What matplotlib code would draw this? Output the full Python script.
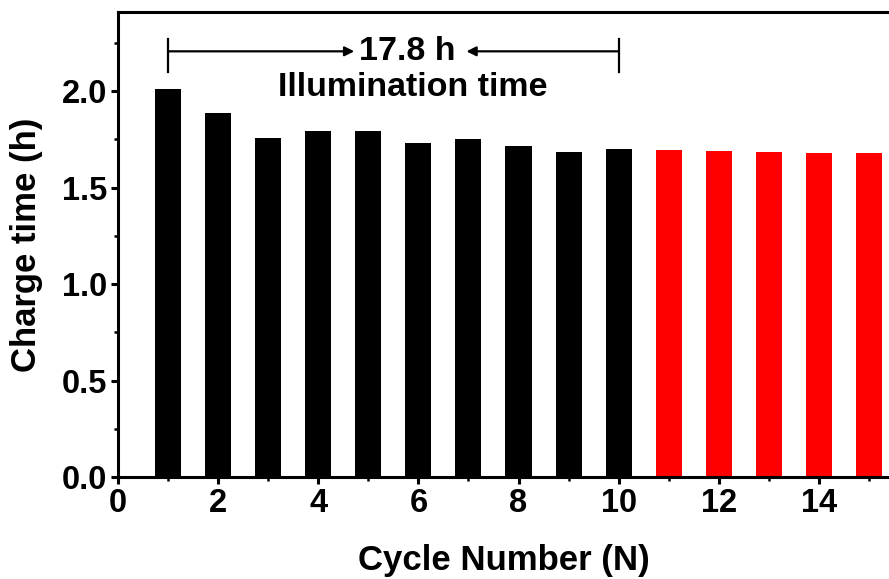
import matplotlib.pyplot as plt
from matplotlib.ticker import MultipleLocator

plt.rcParams['font.family'] = ['Liberation Sans', 'DejaVu Sans']
plt.rcParams['font.weight'] = 'bold'

# Цикл и время заряда
cycles = [1, 2, 3, 4, 5, 6, 7, 8, 9, 10, 11, 12, 13, 14, 15]
charge_time = [2.01, 1.885, 1.76, 1.795, 1.795, 1.73, 1.75, 1.715, 1.685, 1.70,
               1.694, 1.69, 1.686, 1.681, 1.681]
colors = ['black'] * 10 + ['red'] * 5

fig = plt.figure(figsize=(8.89, 5.79), dpi=100)
ax = fig.add_axes([0.1327, 0.176, 0.8673, 0.803])

ax.bar(cycles, charge_time, width=0.52, color=colors)

ax.set_xlim(0, 15.4)
ax.set_ylim(0, 2.41)
ax.xaxis.set_major_locator(MultipleLocator(2))
ax.xaxis.set_minor_locator(MultipleLocator(1))
ax.yaxis.set_major_locator(MultipleLocator(0.5))
ax.yaxis.set_minor_locator(MultipleLocator(0.25))
ax.yaxis.set_major_formatter(plt.FormatStrFormatter('%.1f'))

for s in ['left', 'top', 'bottom']:
    ax.spines[s].set_linewidth(2.2)
ax.spines['right'].set_visible(False)
ax.tick_params(which='major', direction='out', length=5, width=2.2, labelsize=23.5, pad=3)
ax.tick_params(which='minor', direction='out', length=3, width=1.8)

ax.set_xlabel('Cycle Number (N)', fontsize=25, fontweight='bold', labelpad=18)
ax.set_ylabel('Charge time (h)', fontsize=25, fontweight='bold', labelpad=13)

# Подпись со стрелками
y_arr = 2.207
ax.plot([1, 1], [2.10, 2.27], color='black', lw=1.6)
ax.plot([10, 10], [2.10, 2.27], color='black', lw=1.6)
ax.annotate('', xy=(4.72, y_arr), xytext=(1, y_arr),
            arrowprops=dict(arrowstyle='-|>', color='black', lw=1.6, mutation_scale=14,
                            shrinkA=0, shrinkB=0))
ax.annotate('', xy=(6.96, y_arr), xytext=(10, y_arr),
            arrowprops=dict(arrowstyle='-|>', color='black', lw=1.6, mutation_scale=14,
                            shrinkA=0, shrinkB=0))
ax.text(5.78, y_arr, '17.8 h', fontsize=24.5, fontweight='bold', ha='center', va='center')
ax.text(5.88, 2.02, 'Illumination time', fontsize=24.5, fontweight='bold', ha='center', va='center')

plt.savefig('out.png', dpi=100)
